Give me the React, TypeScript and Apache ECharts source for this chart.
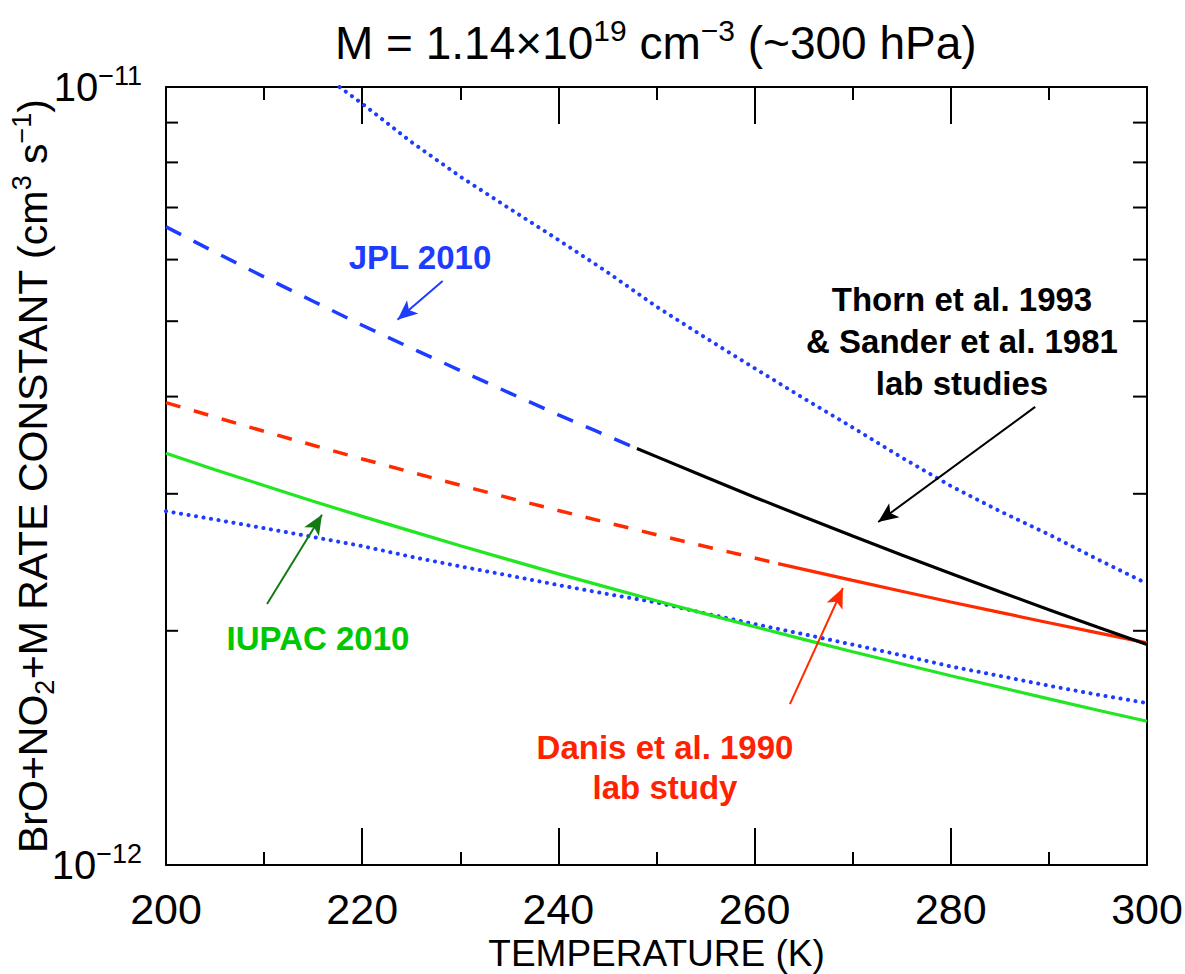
import React, { useEffect, useRef } from 'react';
import * as echarts from 'echarts';

// ---- axis definitions ----
const X_MIN = 200;
const X_MAX = 300;
const X_INTERVAL = 20;
const Y_MIN = 1; // in units of 1e-12
const Y_MAX = 10;
const yLabelExponents: Record<number, string> = { 1: '−12', 10: '−11' };
const yMinorTicks = [2, 3, 4, 5, 6, 7, 8, 9];

// ---- data (rate constant in 1e-12 cm3 s-1) ----
const jplT = [200, 205, 210, 215, 220, 225, 230, 235, 240, 244, 248];
const jplK = [6.61, 6.133, 5.7, 5.304, 4.94, 4.617, 4.32, 4.044, 3.79, 3.606, 3.43];

const thornT = [248, 250, 255, 260, 265, 270, 275, 280, 285, 290, 295, 300];
const thornK = [3.43, 3.349, 3.152, 2.97, 2.803, 2.648, 2.503, 2.37, 2.245, 2.129, 2.021, 1.92];

const danisExtT = [200, 205, 210, 215, 220, 225, 230, 235, 240, 245, 250, 255, 260, 262.4];
const danisExtK = [3.93, 3.765, 3.609, 3.463, 3.326, 3.198, 3.077, 2.963, 2.855, 2.754, 2.658, 2.567, 2.481, 2.44];

const danisT = [262.4, 265, 270, 275, 280, 285, 290, 295, 300];
const danisK = [2.44, 2.399, 2.322, 2.248, 2.178, 2.112, 2.048, 1.988, 1.93];

const iupacT = [200, 205, 210, 215, 220, 225, 230, 235, 240, 245, 250, 255, 260, 265, 270, 275, 280, 285, 290, 295, 300];
const iupacK = [3.382, 3.222, 3.074, 2.935, 2.806, 2.686, 2.573, 2.467, 2.367, 2.274, 2.186, 2.103, 2.024, 1.95, 1.88, 1.814, 1.751, 1.692, 1.635, 1.581, 1.53];

const upperT = [217.7, 220, 225, 230, 235, 240, 245, 250, 255, 260, 265, 270, 275, 280, 285, 290, 295, 300];
const upperK = [10.0, 9.52, 8.5, 7.67, 6.98, 6.36, 5.78, 5.22, 4.76, 4.35, 3.98, 3.65, 3.34, 3.07, 2.85, 2.66, 2.47, 2.3];

const lowerT = [200, 205, 210, 215, 220, 225, 230, 235, 240, 245, 250, 255, 260, 265, 270, 275, 280, 285, 290, 295, 300];
const lowerK = [2.85, 2.78, 2.71, 2.64, 2.57, 2.49, 2.42, 2.355, 2.29, 2.23, 2.175, 2.105, 2.04, 1.98, 1.92, 1.86, 1.8, 1.75, 1.7, 1.655, 1.615];

// arrows: [fromT, fromK, toT, toK]
const arrowJPL = [228.2, 5.63, 223.6, 5.02];
const arrowThorn = [288.6, 3.88, 272.6, 2.76];
const arrowIUPAC = [210.3, 2.165, 215.9, 2.82];
const arrowDanis = [263.6, 1.61, 269.0, 2.27];

const FONT = '"Liberation Sans", Arial, Helvetica, sans-serif';
const BLUE = '#1e3cff';
const RED = '#ff2a00';
const GREEN = '#22e622';

const pair = (t: number[], k: number[]) => t.map((x, i) => [x, k[i]]);

const arrow = (a: number[], color: string) => [
  { coord: [a[0], a[1]], lineStyle: { color, width: 2, type: 'solid' } },
  { coord: [a[2], a[3]] },
];

const DOTTED = { color: BLUE, width: 4, type: [0.1, 7.5], cap: 'round' };

export default function App() {
  const ref = useRef<HTMLDivElement>(null);

  useEffect(() => {
    if (!ref.current) return;
    const chart = echarts.init(ref.current, undefined, { renderer: 'svg' });

    const axisLine = { show: true, lineStyle: { color: '#000', width: 2 } };
    const xCommon = {
      type: 'value' as const,
      min: X_MIN,
      max: X_MAX,
      interval: X_INTERVAL,
      axisLine,
      axisTick: { show: true, inside: true, length: 37, lineStyle: { color: '#000', width: 2 } },
      minorTick: { show: true, splitNumber: 2, length: 13, lineStyle: { color: '#000', width: 2 } },
      splitLine: { show: false },
      minorSplitLine: { show: false },
    };
    const yCommon = {
      type: 'log' as const,
      logBase: 10,
      min: Y_MIN,
      max: Y_MAX,
      axisLine,
      axisTick: { show: false },
      splitLine: { show: false },
    };

    const lineSeries = (name: string, t: number[], k: number[], lineStyle: any, extra: any = {}) => ({
      name,
      type: 'line',
      data: pair(t, k),
      showSymbol: false,
      symbol: 'none',
      lineStyle,
      ...extra,
    });

    const option: any = {
      animation: false,
      backgroundColor: '#fff',
      title: {
        text: '{a|M = 1.14×10}{s|19}{a| cm}{s|−3}{a| (~300 hPa)}',
        left: 330,
        top: 10,
        textStyle: {
          fontWeight: 'normal',
          rich: {
            a: { fontSize: 46, fontFamily: FONT, fontWeight: 'normal', color: '#000', lineHeight: 56 },
            s: { fontSize: 30, fontFamily: FONT, fontWeight: 'normal', color: '#000', verticalAlign: 'top', lineHeight: 36 },
          },
        },
      },
      grid: { left: 166, right: 38, top: 87, bottom: 109, containLabel: false, outerBoundsMode: 'none' },
      xAxis: [
        {
          ...xCommon,
          position: 'bottom',
          axisLabel: { fontSize: 43, color: '#000', fontFamily: FONT, margin: 22 },
          name: 'TEMPERATURE (K)',
          nameLocation: 'middle',
          nameGap: 70,
          nameMoveOverlap: false,
          nameTextStyle: { fontSize: 37, color: '#000', fontFamily: FONT },
        },
        { ...xCommon, position: 'top', axisLabel: { show: false } },
      ],
      yAxis: [
        {
          ...yCommon,
          position: 'left',
          axisLabel: {
            margin: 24,
            formatter: (v: number) => `{b|10}{s|${yLabelExponents[Math.round(v)] ?? ''}}`,
            rich: {
              b: { fontSize: 40, fontFamily: FONT, color: '#000', lineHeight: 50 },
              s: { fontSize: 27, fontFamily: FONT, color: '#000', verticalAlign: 'top', lineHeight: 30 },
            },
          },
          name: '{a|BrO+NO}{d|2}{a|+M RATE CONSTANT (cm}{s|3}{a| s}{s|−1}{a|)}',
          nameLocation: 'middle',
          nameRotate: 90,
          nameGap: 108,
          nameMoveOverlap: false,
          nameTextStyle: {
            rich: {
              a: { fontSize: 41, fontFamily: FONT, color: '#000', lineHeight: 50 },
              d: { fontSize: 27, fontFamily: FONT, color: '#000', verticalAlign: 'bottom', lineHeight: 34 },
              s: { fontSize: 27, fontFamily: FONT, color: '#000', verticalAlign: 'top', lineHeight: 34 },
            },
          },
        },
        { ...yCommon, position: 'right', axisLabel: { show: false } },
      ],
      series: [
        lineSeries('upper', upperT, upperK, DOTTED),
        lineSeries('lower', lowerT, lowerK, DOTTED),
        lineSeries('JPL 2010', jplT, jplK, { color: BLUE, width: 3.5, type: [17, 14] }),
        lineSeries('Danis ext', danisExtT, danisExtK, { color: RED, width: 3.5, type: [15, 14] }),
        lineSeries('Danis', danisT, danisK, { color: RED, width: 3.2, type: 'solid' }),
        lineSeries('IUPAC 2010', iupacT, iupacK, { color: GREEN, width: 3.2, type: 'solid' }),
        lineSeries('Thorn', thornT, thornK, { color: '#000', width: 3.2, type: 'solid' }, {
          markLine: {
            silent: true,
            symbol: ['none', 'arrow'],
            symbolSize: [13, 20],
            label: { show: false },
            lineStyle: { width: 2, type: 'solid' },
            data: [
              arrow(arrowJPL, BLUE),
              arrow(arrowThorn, '#000'),
              arrow(arrowIUPAC, '#137a13'),
              arrow(arrowDanis, RED),
            ],
          },
        }),
        {
          name: 'yticks',
          type: 'custom',
          silent: true,
          clip: false,
          data: yMinorTicks.map((v) => [X_MIN, v]),
          encode: { x: 0, y: 1 },
          renderItem: (params: any, api: any) => {
            const v = api.value(1);
            const l = api.coord([X_MIN, v]);
            const r = api.coord([X_MAX, v]);
            return {
              type: 'group',
              children: [
                { type: 'line', shape: { x1: l[0], y1: l[1], x2: l[0] + 12, y2: l[1] }, style: { stroke: '#000', lineWidth: 2 } },
                { type: 'line', shape: { x1: r[0] - 14, y1: r[1], x2: r[0], y2: r[1] }, style: { stroke: '#000', lineWidth: 2 } },
              ],
            };
          },
        },
      ],
      graphic: [
        {
          type: 'text',
          x: 420,
          y: 257,
          style: { text: 'JPL 2010', fill: BLUE, font: `bold 33px ${FONT}`, align: 'center', verticalAlign: 'middle', textAlign: 'center', textVerticalAlign: 'middle' },
        },
        {
          type: 'text',
          x: 962,
          y: 341,
          style: {
            text: 'Thorn et al. 1993\n& Sander et al. 1981\nlab studies',
            fill: '#000',
            font: `bold 33px ${FONT}`,
            lineHeight: 42,
            align: 'center',
            verticalAlign: 'middle',
            textAlign: 'center',
            textVerticalAlign: 'middle',
          },
        },
        {
          type: 'text',
          x: 318,
          y: 638,
          style: { text: 'IUPAC 2010', fill: '#00c800', font: `bold 33px ${FONT}`, align: 'center', verticalAlign: 'middle', textAlign: 'center', textVerticalAlign: 'middle' },
        },
        {
          type: 'text',
          x: 665,
          y: 767,
          style: {
            text: 'Danis et al. 1990\nlab study',
            fill: '#ff2200',
            font: `bold 33px ${FONT}`,
            lineHeight: 40,
            align: 'center',
            verticalAlign: 'middle',
            textAlign: 'center',
            textVerticalAlign: 'middle',
          },
        },
      ],
    };

    chart.setOption(option);
    return () => chart.dispose();
  }, []);

  return (
    <div
      ref={ref}
      style={{ position: 'absolute', left: 0, top: 0, width: 1185, height: 974, background: '#fff' }}
    />
  );
}
